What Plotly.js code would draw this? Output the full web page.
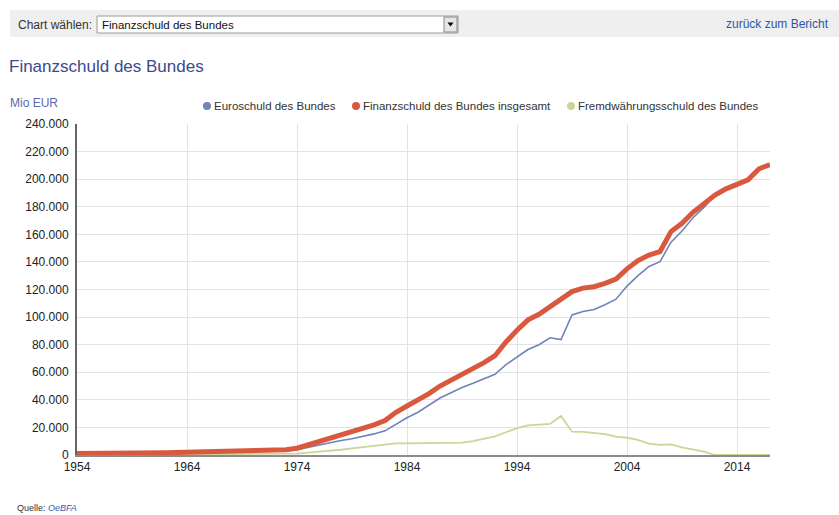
<!DOCTYPE html>
<html>
<head>
<meta charset="utf-8">
<script src="https://cdn.plot.ly/plotly-3.0.1.min.js"></script>
<style>
  html, body { margin: 0; padding: 0; background: #fff; }
  #chart { width: 839px; height: 515px; }
</style>
</head>
<body>
<div id="chart"></div>
<script>
// Finanzschuld des Bundes, Mio EUR, 1954-2017
const years = [];
for (let y = 1954; y <= 2017; y++) years.push(y);

// Finanzschuld des Bundes insgesamt
const totalDebt = [
  1100, 1050, 1000, 950, 1100, 1300, 1400, 1500, 1600, 1800,
  2000, 2100, 2200, 2500, 2800, 3000, 3100, 3200, 3400, 3800,
  4900, 7300, 9600, 11900, 14300, 16600, 19000, 21800, 25000, 31000,
  35500, 39500, 44500, 50000, 54000, 58000, 62000, 67000, 72000, 82000,
  90500, 98000, 102000, 107500, 112000, 118500, 121000, 122000, 124500, 127500,
  135000, 141000, 145000, 147500, 162000, 168000, 176000, 182000, 188500, 193000,
  196000, 199500, 207500, 210500
];

// Euroschuld des Bundes
const euroDebt = [
  700, 670, 640, 610, 750, 900, 980, 1050, 1120, 1300,
  1480, 1550, 1640, 1900, 2150, 2320, 2400, 2500, 2680, 3000,
  3900, 5600, 7300, 9000, 10500, 11800, 13400, 15300, 17500, 22500,
  27000, 31000, 35900, 41300, 45200, 49000, 52000, 55500, 58500, 65500,
  71000, 76500, 80000, 85000, 83700, 101600, 104000, 105500, 109000, 113000,
  122500, 130000, 136700, 140200, 154300, 162400, 172000, 179500, 188500, 193000,
  196000, 199500, 207500, 210500
];

// Fremdwährungsschuld des Bundes
const foreignDebt = [
  400, 380, 360, 340, 350, 400, 420, 450, 480, 500,
  520, 550, 560, 600, 650, 680, 700, 700, 720, 800,
  1000, 1700, 2300, 2900, 3800, 4800, 5600, 6500, 7500, 8500,
  8500, 8500, 8600, 8700, 8800, 9000, 10000, 11500, 13500, 16500,
  19500, 21500, 22000, 22500, 28300, 16900, 16700, 16200, 15200, 13400,
  12500, 11000, 8300, 7300, 7700, 5600, 4000, 2500, 0, 0,
  0, 0, 0, 0
];

const seriesNames = [
  'Euroschuld des Bundes',
  'Finanzschuld des Bundes insgesamt',
  'Fremdwährungsschuld des Bundes'
];
const seriesColors = ['#6f83bd', '#d9593f', '#c8d796'];

const yTickVals = [0, 20000, 40000, 60000, 80000, 100000, 120000, 140000, 160000, 180000, 200000, 220000, 240000];

// plot area in page pixels
const W = 839, H = 515;
const L = 77, R = 770, T = 124, B = 455;
const fx = px => (px - L) / (R - L);
const fy = py => (B - py) / (B - T);

const font = 'Arial, "Liberation Sans", sans-serif';

const traces = [
  {
    x: years, y: euroDebt, type: 'scatter', mode: 'lines',
    name: seriesNames[0], line: { color: seriesColors[0], width: 1.6 },
    showlegend: false, hoverinfo: 'skip'
  },
  {
    x: years, y: foreignDebt, type: 'scatter', mode: 'lines',
    name: seriesNames[2], line: { color: seriesColors[2], width: 1.8 },
    showlegend: false, cliponaxis: false, hoverinfo: 'skip'
  },
  {
    x: years, y: totalDebt, type: 'scatter', mode: 'lines',
    name: seriesNames[1], line: { color: seriesColors[1], width: 5 },
    showlegend: false, cliponaxis: false, hoverinfo: 'skip'
  }
];

const shapes = [];
const annotations = [];

// header bar with chart selector
shapes.push({ type: 'rect', xref: 'paper', yref: 'paper', layer: 'below',
  x0: fx(10), x1: fx(839), y0: fy(10), y1: fy(37),
  fillcolor: '#efefef', line: { width: 0 } });
shapes.push({ type: 'rect', xref: 'paper', yref: 'paper',
  x0: fx(97), x1: fx(458), y0: fy(16), y1: fy(33),
  fillcolor: '#ffffff', line: { color: '#9a9a9a', width: 1 } });
shapes.push({ type: 'rect', xref: 'paper', yref: 'paper',
  x0: fx(444), x1: fx(457), y0: fy(17), y1: fy(32),
  fillcolor: '#e6e6e6', line: { color: '#8a8a8a', width: 1 } });
shapes.push({ type: 'path', xref: 'paper', yref: 'paper',
  path: `M ${fx(447.5)} ${fy(22.5)} L ${fx(453.5)} ${fy(22.5)} L ${fx(450.5)} ${fy(26.5)} Z`,
  fillcolor: '#000', line: { width: 0 } });

annotations.push({ xref: 'paper', yref: 'paper', x: fx(94), y: fy(25),
  xanchor: 'right', yanchor: 'middle', showarrow: false,
  text: 'Chart wählen:', font: { family: font, size: 12, color: '#333' } });
annotations.push({ xref: 'paper', yref: 'paper', x: fx(100), y: fy(25),
  xanchor: 'left', yanchor: 'middle', showarrow: false,
  text: 'Finanzschuld des Bundes', font: { family: font, size: 11.5, color: '#111' } });
annotations.push({ xref: 'paper', yref: 'paper', x: fx(831), y: fy(24),
  xanchor: 'right', yanchor: 'middle', showarrow: false,
  text: 'zurück zum Bericht', font: { family: font, size: 12, color: '#2c56a3' } });

// unit label
annotations.push({ xref: 'paper', yref: 'paper', x: fx(8), y: fy(103),
  xanchor: 'left', yanchor: 'middle', showarrow: false,
  text: 'Mio EUR', font: { family: font, size: 12, color: '#5b69ab' } });

// source line
annotations.push({ xref: 'paper', yref: 'paper', x: fx(15), y: fy(508),
  xanchor: 'left', yanchor: 'middle', showarrow: false,
  text: 'Quelle: <i><span style="color:#3a5aa8">OeBFA</span></i>',
  font: { family: font, size: 9, color: '#333' } });

// legend: dot + label per series
const legendOrder = [0, 1, 2];
const legendDotX = [207, 356, 571];
legendOrder.forEach((s, i) => {
  shapes.push({ type: 'circle', xref: 'paper', yref: 'paper',
    xsizemode: 'pixel', ysizemode: 'pixel',
    xanchor: fx(legendDotX[i]), yanchor: fy(106),
    x0: -4, x1: 4, y0: -4, y1: 4,
    fillcolor: seriesColors[s], line: { width: 0 } });
  annotations.push({ xref: 'paper', yref: 'paper', x: fx(legendDotX[i] + 5), y: fy(106),
    xanchor: 'left', yanchor: 'middle', showarrow: false,
    text: seriesNames[s], font: { family: font, size: 11.5, color: '#333' } });
});

const layout = {
  width: W, height: H,
  margin: { l: L, r: W - R, t: T, b: H - B, pad: 0 },
  paper_bgcolor: '#fff', plot_bgcolor: '#fff',
  separators: ',.',
  font: { family: font, size: 12, color: '#222' },
  title: {
    text: 'Finanzschuld des Bundes',
    xref: 'container', yref: 'container',
    x: 9 / W, y: 1 - 66 / H, xanchor: 'left', yanchor: 'middle',
    font: { family: font, size: 17, color: '#3b4a8d' }
  },
  showlegend: false,
  xaxis: {
    range: [1954, 2017], tick0: 1954, dtick: 10,
    showgrid: true, gridcolor: '#e3e3e3', gridwidth: 1,
    zeroline: false, showline: true, linecolor: '#8c8c8c', linewidth: 2,
    ticks: '', layer: 'below traces',
    tickfont: { family: font, size: 12, color: '#222' },
    fixedrange: true
  },
  yaxis: {
    range: [0, 240000], tickvals: yTickVals, tickformat: ',d',
    showgrid: true, gridcolor: '#e3e3e3', gridwidth: 1,
    zeroline: false, showline: true, linecolor: '#666', linewidth: 2,
    ticks: '', ticklabelstandoff: 4, layer: 'below traces',
    tickfont: { family: font, size: 12, color: '#222' },
    fixedrange: true
  },
  shapes: shapes,
  annotations: annotations
};

Plotly.newPlot('chart', traces, layout, { displayModeBar: false, staticPlot: true });
</script>
</body>
</html>
